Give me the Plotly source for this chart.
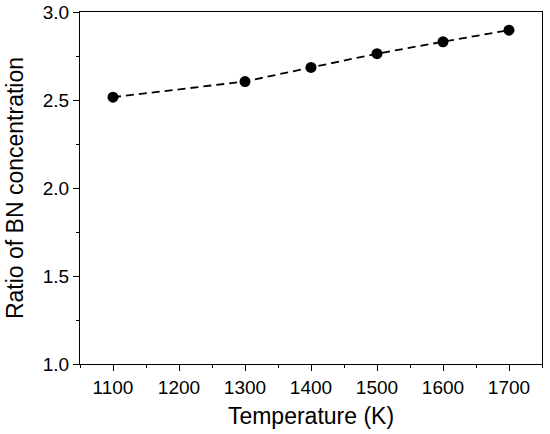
import plotly.graph_objects as go

temperature = [1100, 1300, 1400, 1500, 1600, 1700]
bn_ratio = [2.516, 2.605, 2.685, 2.763, 2.831, 2.897]

fig = go.Figure()

# dashed fit line through the points
fig.add_trace(go.Scatter(
    x=temperature, y=bn_ratio,
    mode='lines',
    line=dict(color='black', width=1.8, dash='8px,5px'),
    hoverinfo='none',
    showlegend=False,
))
fig.add_trace(go.Scatter(
    x=temperature, y=bn_ratio,
    mode='markers',
    marker=dict(size=11, color='black'),
    showlegend=False,
))

font_name = 'Liberation Sans, Arial'
axis_style = dict(
    showline=True, linecolor='black', linewidth=1.3, mirror=True,
    showgrid=False, zeroline=False, automargin=False,
    ticks='outside', ticklen=6, tickwidth=1.3, tickcolor='black',
    tickfont=dict(family=font_name, size=19, color='black'),
)

fig.update_xaxes(
    range=[1050, 1750], tickvals=[1100, 1200, 1300, 1400, 1500, 1600, 1700],
    minor=dict(dtick=50, ticks='outside', ticklen=3, tickwidth=1.3, tickcolor='black'),
    title=dict(text='Temperature (K)', font=dict(family=font_name, size=23, color='black'), standoff=10),
    **axis_style
)
fig.update_yaxes(
    range=[1.0, 3.0], dtick=0.5, tickformat='.1f',
    minor=dict(dtick=0.25, ticks='outside', ticklen=3, tickwidth=1.3, tickcolor='black'),
    title=dict(text='Ratio of BN concentration', font=dict(family=font_name, size=23, color='black'), standoff=12),
    **axis_style
)

fig.update_layout(
    width=550, height=434,
    margin=dict(l=80, r=8, t=12, b=70),
    plot_bgcolor='white', paper_bgcolor='white',
)

# drop the default body margin so the figure sits at the page corner
fig.write_html("out.html", config={'displayModeBar': False},
               post_script="document.body.style.margin='0';")
